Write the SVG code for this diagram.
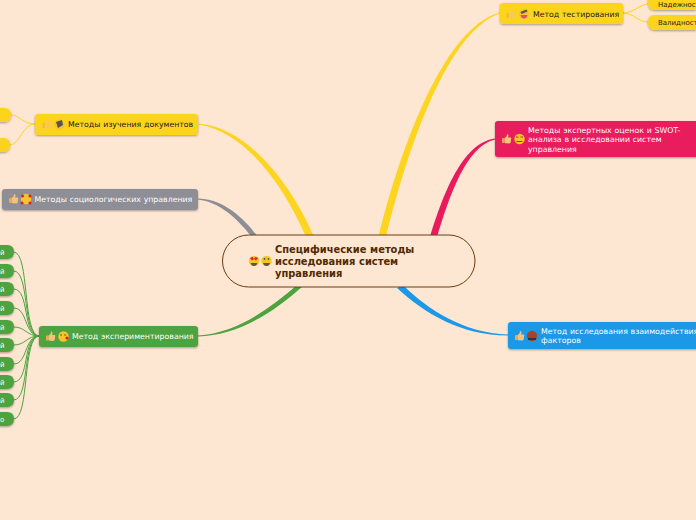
<svg xmlns="http://www.w3.org/2000/svg" width="696" height="520" viewBox="0 0 696 520">
<style>
text{font-family:"DejaVu Sans","Liberation Sans",sans-serif;font-size:7.8px;word-spacing:.3px}
.w{fill:#fff}.k{fill:#1a1a1a}
.c{fill:none;stroke-linecap:round}
.y{stroke:#fdd41f}.g{stroke:#4da33f}
.n{filter:url(#s)}
.sm{font-size:7px;word-spacing:0}
.ctr{font-size:9.900px;font-weight:bold;fill:#4f2a04;word-spacing:.3px}
</style>
<defs>
<filter id="s" x="-10%" y="-20%" width="120%" height="150%"><feDropShadow dx="0" dy="1" stdDeviation="0.8" flood-color="#000" flood-opacity="0.35"/></filter>
<g id="th"><rect x="-4.5" y="-1" width="2.5" height="5" rx="0.6" fill="#e9a94f"/><path d="M-2-1 L0-2.500 L0.600-5 Q2-5.200 2-3.500 L1.600-1.500 L4.400-1.500 Q5.200-.8 4.600 0 L4.200 3.600 Q3.800 4.400 3 4.400 L-1 4.200 L-2 3.600Z" fill="#f6c27a"/></g>
<g id="f"><circle r="5.200" fill="#f9c32b"/></g>
</defs>
<rect width="696" height="520" fill="#fee7d2"/>
<g id="connectors">
<path fill="#fdd41f" d="M378.500 237C396 165 440 28 500 12.600L500 13.400C443 32 402 170 386 237Z"/>
<path fill="#e91a5d" d="M430 237C443 195 462 143 495 138.600L495 139.400C466 146 449 197 437 237Z"/>
<path fill="#1b98e8" d="M397 288C425 314 462 335.500 508 335.400L508 334.600C464 333 428 310 403 285Z"/>
<path fill="#fdd41f" d="M314 237C292 185 248 127 198 123.600L198 124.400C246 131 285 188 306 237Z"/>
<path fill="#8e8e96" d="M258 237C240 213 220 199 198 198.600L198 199.400C219 202 236 217 252 237Z"/>
<path fill="#4da33f" d="M303 286C272 314 236 336 198 336.400L198 335.600C236 333 268 310 297 285Z"/>
<path class="c y" stroke-width="1" d="M623 13C634 13 638 5 648 4"/>
<path class="c y" stroke-width="1" d="M623 13C634 13 638 22 648 22"/>
<path class="c y" stroke-width="1" d="M35 124C22 124 20 115 11 115"/>
<path class="c y" stroke-width="1" d="M35 124C22 124 20 145 10 145"/>
<g class="c g" stroke-width="1">
<path d="M39 336C22 336 30 252 14 252"/>
<path d="M39 336C22 336 30 271 14 271"/>
<path d="M39 336C22 336 30 289 14 289"/>
<path d="M39 336C24 336 28 308 14 308"/>
<path d="M39 336C26 336 26 327 14 327"/>
<path d="M39 336C26 336 26 345 14 345"/>
<path d="M39 336C24 336 28 364 14 364"/>
<path d="M39 336C22 336 30 382 14 382"/>
<path d="M39 336C22 336 30 400 14 400"/>
<path d="M39 336C22 336 30 419 14 419"/>
</g>
</g>
<g id="center"><rect x="222.500" y="235" width="252.500" height="52" rx="26" fill="#fee7d2" stroke="#6b3a10" stroke-width="1"/>
<use href="#f" x="254" y="261"/><path d="M250 258l2.500-1 1.500 2-2 1.500zM258 258l-2.500-1-1.500 2 2 1.500z" fill="#e02020"/><path d="M250.500 263h7q-1 3-3.500 3t-3.500-3z" fill="#555"/>
<use href="#f" x="266.500" y="261"/><path d="M263 263h7q-1 3-3.500 3t-3.500-3z" fill="#555"/><circle cx="264.500" cy="259" r=".9" fill="#555"/><circle cx="268.500" cy="259" r=".9" fill="#555"/>
<text class="ctr" x="275" y="253">Специфические методы</text><text class="ctr" x="275" y="265">исследования систем</text><text class="ctr" x="275" y="277">управления</text></g>
<g id="n-test"><rect class="n" x="500" y="3" width="123" height="21" rx="3" fill="#fdd41f"/><use href="#th" x="511" y="14" opacity=".55"/><use href="#f" x="524" y="14"/><path d="M520.500 15h7q-1 3.500-3.500 3.500t-3.500-3.500z" fill="#e0506a"/><path d="M520.500 12l6-2.500 1 2-6 2.500z" fill="#555"/><text class="k" x="533" y="17">Метод тестирования</text></g>
<g id="n-rel"><path class="n" d="M696 -8H655Q648-8 648-1V3Q648 10 655 10H696Z" fill="#fdd41f"/><text class="k sm" x="658" y="7">Надежность</text></g>
<g id="n-val"><path class="n" d="M696 15H655Q648 15 648 22V23Q648 30 655 30H696Z" fill="#fdd41f"/><text class="k sm" x="658" y="25">Валидность</text></g>
<g id="n-exp"><rect class="n" x="495" y="121" width="215" height="36" rx="3" fill="#e91a5d"/><use href="#th" x="506.500" y="139"/><use href="#f" x="519.500" y="139"/><path d="M516.500 141.500h6" stroke="#8a4a00" stroke-width="1"/><path d="M516 137h2.500M520.500 137h2.500" stroke="#8a4a00" stroke-width="1"/><text class="w" x="528" y="133">Методы экспертных оценок и SWOT-</text><text class="w" x="528" y="142">анализа в исследовании систем</text><text class="w" x="528" y="152">управления</text></g>
<g id="n-int"><rect class="n" x="508" y="322" width="200" height="27" rx="3" fill="#1b98e8"/><use href="#th" x="519.500" y="336"/><circle cx="532" cy="336" r="5.200" fill="#a3452a"/><path d="M528 338h8v2h-8z" fill="#333"/><text class="w" x="541" y="334">Метод исследования взаимодействия</text><text class="w" x="541" y="343">факторов</text></g>
<g id="n-doc"><rect class="n" x="35" y="114" width="163" height="21" rx="3" fill="#fdd41f"/><use href="#th" x="47" y="124" opacity=".55"/><use href="#f" x="59.500" y="124.500"/><path d="M56 122l6-2 1 5-5 3z" fill="#555"/><text class="k" x="68" y="127">Методы изучения документов</text></g>
<g id="n-d1"><path class="n" d="M-5 108H4Q11 108 11 115T4 122H-5Z" fill="#fdd41f"/></g>
<g id="n-d2"><path class="n" d="M-5 138H3Q10 138 10 145T3 152H-5Z" fill="#fdd41f"/></g>
<g id="n-soc"><rect class="n" x="2" y="189" width="196" height="21" rx="3" fill="#8e8e96"/><use href="#th" x="13.500" y="199"/><use href="#f" x="26" y="199"/><circle cx="22" cy="203" r="1.500" fill="#e02020"/><circle cx="30" cy="196" r="1.500" fill="#e02020"/><circle cx="30" cy="203" r="1.500" fill="#e02020"/><circle cx="22.500" cy="196" r="1.500" fill="#e02020"/><text class="w" x="34.500" y="202">Методы социологических управления</text></g>
<g id="n-exper"><rect class="n" x="39" y="326" width="159" height="21" rx="3" fill="#4da33f"/><use href="#th" x="50.500" y="336.500"/><use href="#f" x="63.500" y="336.500"/><circle cx="67" cy="338" r="1.600" fill="#e02020"/><circle cx="61" cy="335" r=".8" fill="#553"/><circle cx="65" cy="335" r=".8" fill="#553"/><text class="w" x="72" y="339">Метод экспериментирования</text></g>
<g id="leaves">
<g id="l1"><path class="n" d="M-5 245H7Q14 245 14 252T7 259H-5Z" fill="#4da33f"/><text class="w sm" x="0" y="255">й</text></g>
<g id="l2"><path class="n" d="M-5 264H7Q14 264 14 271T7 278H-5Z" fill="#4da33f"/><text class="w sm" x="0" y="274">й</text></g>
<g id="l3"><path class="n" d="M-5 282H7Q14 282 14 289T7 296H-5Z" fill="#4da33f"/><text class="w sm" x="0" y="292">й</text></g>
<g id="l4"><path class="n" d="M-5 301H7Q14 301 14 308T7 315H-5Z" fill="#4da33f"/><text class="w sm" x="0" y="311">й</text></g>
<g id="l5"><path class="n" d="M-5 320H7Q14 320 14 327T7 334H-5Z" fill="#4da33f"/><text class="w sm" x="0" y="330">й</text></g>
<g id="l6"><path class="n" d="M-5 338H7Q14 338 14 345T7 352H-5Z" fill="#4da33f"/><text class="w sm" x="0" y="348">й</text></g>
<g id="l7"><path class="n" d="M-5 357H7Q14 357 14 364T7 371H-5Z" fill="#4da33f"/><text class="w sm" x="0" y="367">й</text></g>
<g id="l8"><path class="n" d="M-5 375H7Q14 375 14 382T7 389H-5Z" fill="#4da33f"/><text class="w sm" x="0" y="385">й</text></g>
<g id="l9"><path class="n" d="M-5 393H7Q14 393 14 400T7 407H-5Z" fill="#4da33f"/><text class="w sm" x="0" y="403">й</text></g>
<g id="l10"><path class="n" d="M-5 412H7Q14 412 14 419T7 426H-5Z" fill="#4da33f"/><text class="w sm" x="0" y="422">о</text></g>
</g>
</svg>
